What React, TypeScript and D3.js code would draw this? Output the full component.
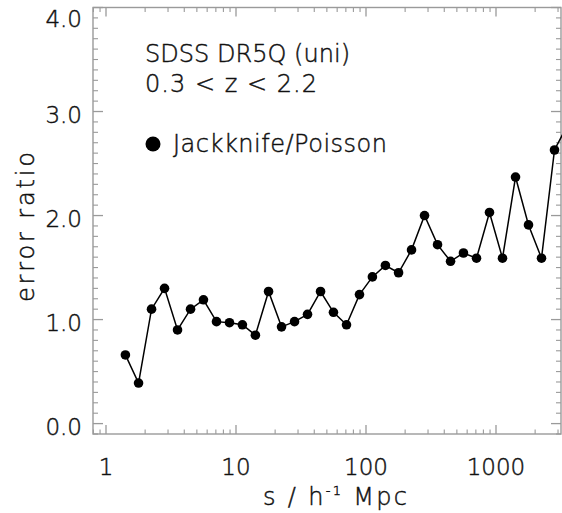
import React from 'react';
import * as d3 from 'd3';

// Data
const sValues = [
  1.41, 1.78, 2.24, 2.82, 3.55, 4.47, 5.62, 7.08, 8.91, 11.2, 14.1, 17.8,
  22.4, 28.2, 35.5, 44.7, 56.2, 70.8, 89.1, 112, 141, 178, 224, 282, 355,
  447, 562, 708, 891, 1122, 1413, 1778, 2239, 2818, 3548,
];
const errorRatio = [
  0.66, 0.39, 1.10, 1.30, 0.90, 1.10, 1.19, 0.98, 0.97, 0.95, 0.85, 1.27,
  0.93, 0.98, 1.05, 1.27, 1.07, 0.95, 1.24, 1.41, 1.52, 1.45, 1.67, 2.00,
  1.72, 1.56, 1.64, 1.59, 2.03, 1.59, 2.37, 1.91, 1.59, 2.63, 2.87,
];
const xTickValues = [1, 10, 100, 1000];
const xTickLabels = ['1', '10', '100', '1000'];
const yTickValues = [0, 1, 2, 3, 4];
const yTickLabels = ['0.0', '1.0', '2.0', '3.0', '4.0'];
const titleLines = ['SDSS DR5Q (uni)', '0.3 < z < 2.2'];
const legendLabel = 'Jackknife/Poisson';

export default function App() {
  const W = 562;
  const H = 513;
  const left = 93;
  const right = 561;
  const top = 7.5;
  const bottom = 434;
  const axisColor = '#9a9a9a';
  const textColor = '#111';
  const font = "'DejaVu Sans', sans-serif";
  const fw = 300;
  const ts = { stroke: textColor, strokeWidth: 0.45 };

  const x = d3.scaleLog().domain([Math.pow(10, -0.1), Math.pow(10, 3.5)]).range([left, right]);
  const y = d3.scaleLinear().domain([-0.1, 4.0]).range([bottom, top]);

  const xMinor: number[] = [];
  [0.1, 1, 10, 100, 1000].forEach((d) => {
    for (let m = 2; m <= 9; m++) {
      const v = d * m;
      if (v >= x.domain()[0] && v <= x.domain()[1]) xMinor.push(v);
    }
  });
  const yMinor: number[] = d3.range(-1, 41).map((i) => i / 10).filter((v) => Math.abs(v - Math.round(v)) > 1e-6);

  const pts = sValues.map((s, i) => [x(s), y(errorRatio[i])] as [number, number]);
  const line = d3.line()(pts) || '';

  return (
    <svg width={W} height={H} style={{ position: 'absolute', left: 0, top: 0, background: '#fff' }}>
      <rect x={0} y={0} width={W} height={H} fill="#fff" />
      {/* frame */}
      <rect x={left} y={top} width={right - left} height={bottom - top} fill="none" stroke={axisColor} strokeWidth={1.4} />
      {/* x ticks */}
      {xTickValues.map((v) => (
        <g key={'xt' + v}>
          <line x1={x(v)} x2={x(v)} y1={bottom} y2={bottom - 9} stroke={axisColor} strokeWidth={1.3} />
          <line x1={x(v)} x2={x(v)} y1={top} y2={top + 9} stroke={axisColor} strokeWidth={1.3} />
        </g>
      ))}
      {xMinor.map((v) => (
        <g key={'xm' + v}>
          <line x1={x(v)} x2={x(v)} y1={bottom} y2={bottom - 4.5} stroke={axisColor} strokeWidth={1.1} />
          <line x1={x(v)} x2={x(v)} y1={top} y2={top + 4.5} stroke={axisColor} strokeWidth={1.1} />
        </g>
      ))}
      {/* y ticks */}
      {yTickValues.map((v) => (
        <g key={'yt' + v}>
          <line x1={left} x2={left + 10} y1={y(v)} y2={y(v)} stroke={axisColor} strokeWidth={1.3} />
          <line x1={right} x2={right - 10} y1={y(v)} y2={y(v)} stroke={axisColor} strokeWidth={1.3} />
        </g>
      ))}
      {yMinor.map((v) => (
        <g key={'ym' + v}>
          <line x1={left} x2={left + 5} y1={y(v)} y2={y(v)} stroke={axisColor} strokeWidth={1.1} />
          <line x1={right} x2={right - 5} y1={y(v)} y2={y(v)} stroke={axisColor} strokeWidth={1.1} />
        </g>
      ))}
      {/* tick labels */}
      {xTickValues.map((v, i) => (
        <text key={'xl' + v} x={x(v)} y={475} textAnchor="middle" fontFamily={font} fontWeight={fw} fontSize={23} fill={textColor} {...ts}>
          {xTickLabels[i]}
        </text>
      ))}
      {yTickValues.map((v, i) => (
        <text key={'yl' + v} x={82} y={Math.max(y(v) + 3, 18.5)} textAnchor="end" dominantBaseline="central" fontFamily={font} fontWeight={fw} fontSize={23} fill={textColor} {...ts}>
          {yTickLabels[i]}
        </text>
      ))}
      {/* axis titles */}
      <text x={335} y={505} textAnchor="middle" fontFamily={font} fontWeight={fw} fontSize={24} fill={textColor} {...ts} textLength={144} lengthAdjust="spacing">
        s / h<tspan fontSize={13} dy={-10}>-1</tspan><tspan dy={10}> Mpc</tspan>
      </text>
      <text transform={`translate(34,227) rotate(-90)`} textAnchor="middle" fontFamily={font} fontWeight={fw} fontSize={24} fill={textColor} {...ts} textLength={150} lengthAdjust="spacing">
        error ratio
      </text>
      {/* annotations */}
      <text x={145} y={62} fontFamily={font} fontWeight={fw} fontSize={24} fill={textColor} {...ts} textLength={205} lengthAdjust="spacing">{titleLines[0]}</text>
      <text x={145} y={92} fontFamily={font} fontWeight={fw} fontSize={24} fill={textColor} {...ts} textLength={172} lengthAdjust="spacing">{titleLines[1]}</text>
      <circle cx={153} cy={144} r={7.5} fill="#000" />
      <text x={173} y={152} fontFamily={font} fontWeight={fw} fontSize={24} fill={textColor} {...ts} textLength={214} lengthAdjust="spacing">{legendLabel}</text>
      {/* data */}
      <path d={line} fill="none" stroke="#000" strokeWidth={1.5} />
      {pts.map((p, i) => (
        <circle key={'p' + i} cx={p[0]} cy={p[1]} r={4.8} fill="#000" />
      ))}
    </svg>
  );
}
